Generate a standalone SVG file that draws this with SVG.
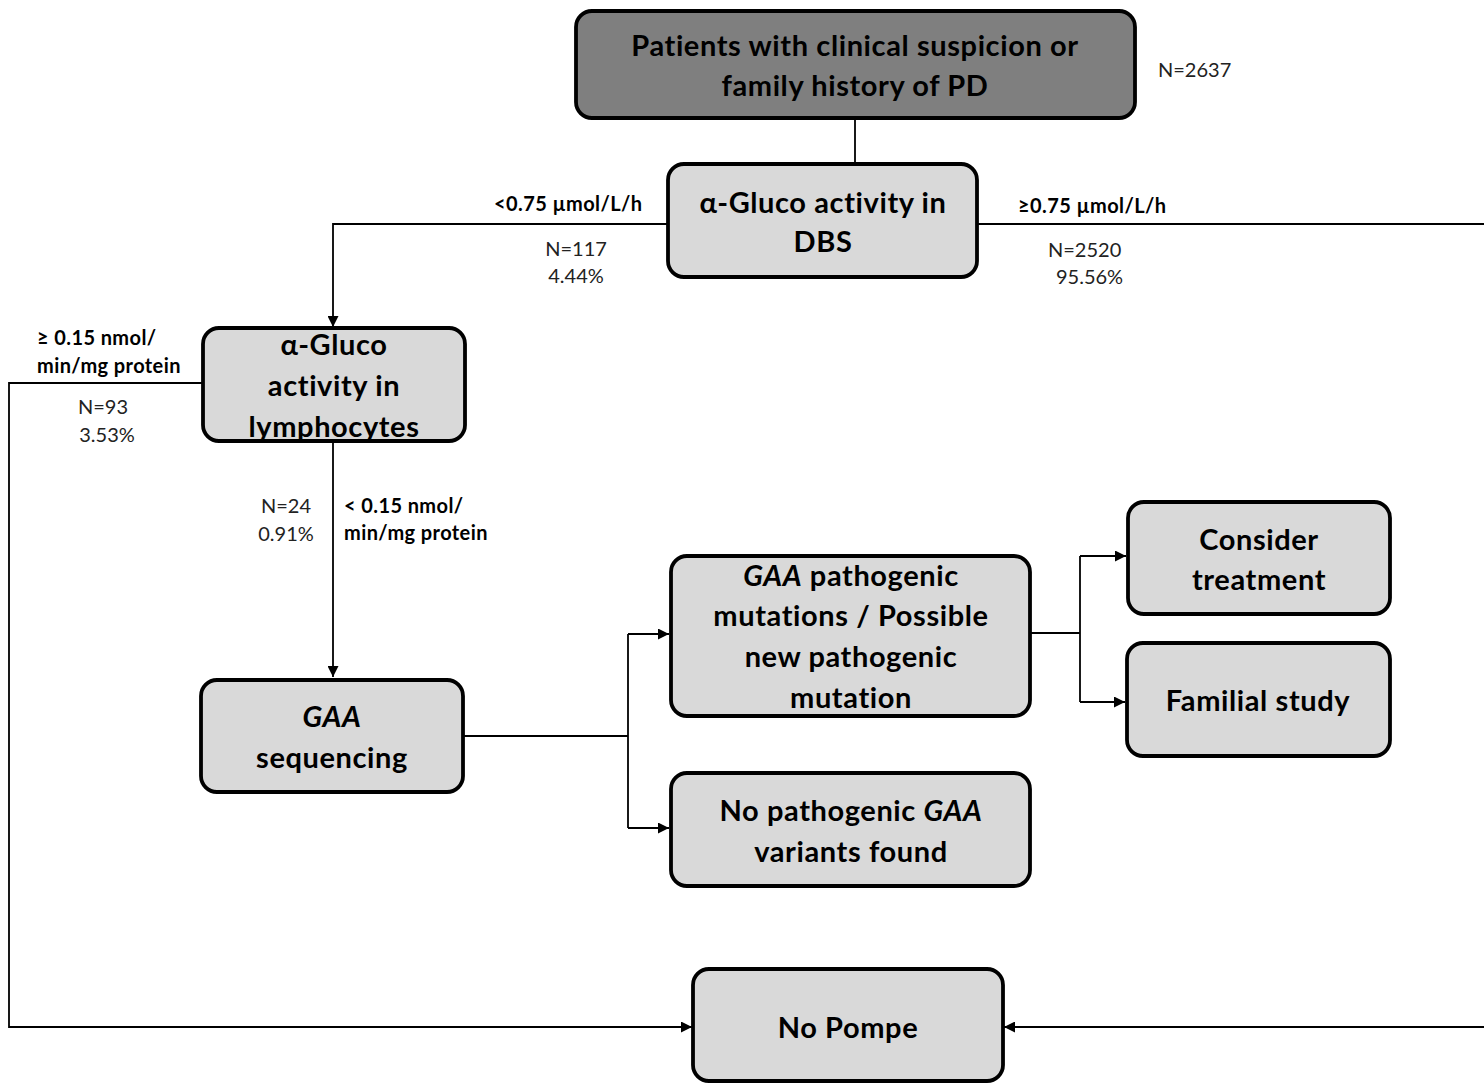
<svg xmlns="http://www.w3.org/2000/svg" width="1484" height="1084" viewBox="0 0 1484 1084">
<defs>
<marker id="arr" viewBox="0 0 10 10" refX="10" refY="5" markerWidth="12" markerHeight="11" markerUnits="userSpaceOnUse" orient="auto">
<path d="M0,0 L10,5 L0,10 z" fill="#000"/>
</marker>
<style>
.box{fill:#d9d9d9;stroke:#000;stroke-width:3.8}
.dark{fill:#7f7f7f;stroke:#000;stroke-width:3.8}
.t{font-family:Lato,"Open Sans","Liberation Sans",sans-serif;font-weight:bold;font-size:29px;letter-spacing:0.6px;fill:#000;text-anchor:middle}
.lb{font-family:Lato,"Open Sans","Liberation Sans",sans-serif;font-weight:bold;font-size:20px;letter-spacing:0.4px;fill:#000}
.n{font-family:Lato,"Open Sans","Liberation Sans",sans-serif;font-size:20px;fill:#222}
.c{text-anchor:middle}
.ln{fill:none;stroke:#000;stroke-width:1.8}
</style>
</defs>
<rect width="1484" height="1084" fill="#fff"/>
<g id="connectors">
<path class="ln" d="M855,118 V165"/>
<path class="ln" d="M668,224 H333 V327" marker-end="url(#arr)"/>
<path class="ln" d="M977,224 H1490 V1027 H1004" marker-end="url(#arr)"/>
<path class="ln" d="M203,383 H9 V1027 H692" marker-end="url(#arr)"/>
<path class="ln" d="M333,441 V677" marker-end="url(#arr)"/>
<path class="ln" d="M463,736 H628"/>
<path class="ln" d="M628,634 V828"/>
<path class="ln" d="M628,634 H669" marker-end="url(#arr)"/>
<path class="ln" d="M628,828 H669" marker-end="url(#arr)"/>
<path class="ln" d="M1030,633 H1080"/>
<path class="ln" d="M1080,556 V702"/>
<path class="ln" d="M1080,556 H1126" marker-end="url(#arr)"/>
<path class="ln" d="M1080,702 H1125" marker-end="url(#arr)"/>
</g>
<g id="labels">
<text class="n" x="1158" y="77">N=2637</text>
<text class="lb" x="494" y="211">&lt;0.75 µmol/L/h</text>
<text class="n c" x="576" y="256">N=117</text>
<text class="n c" x="576" y="283">4.44%</text>
<text class="lb" x="1018" y="213">≥0.75 µmol/L/h</text>
<text class="n" x="1048" y="257">N=2520</text>
<text class="n" x="1056" y="284">95.56%</text>
<text class="lb" x="37" y="345">≥ 0.15 nmol/</text>
<text class="lb" x="37" y="373">min/mg protein</text>
<text class="n c" x="103" y="414">N=93</text>
<text class="n c" x="107" y="442">3.53%</text>
<text class="n c" x="286" y="513">N=24</text>
<text class="n c" x="286" y="541">0.91%</text>
<text class="lb" x="344" y="513">&lt; 0.15 nmol/</text>
<text class="lb" x="344" y="540">min/mg protein</text>
</g>
<g id="node-patients">
<rect class="dark" x="576" y="11" width="559" height="107" rx="16"/>
<text class="t" x="855" y="56">Patients with clinical suspicion or</text>
<text class="t" x="855" y="96">family history of PD</text>
</g>
<g id="node-dbs">
<rect class="box" x="668" y="164" width="309" height="113" rx="16"/>
<text class="t" x="823" y="213">α-Gluco activity in</text>
<text class="t" x="823" y="252">DBS</text>
</g>
<g id="node-lymph">
<rect class="box" x="203" y="328" width="262" height="113" rx="16"/>
<text class="t" x="334" y="355">α-Gluco</text>
<text class="t" x="334" y="396">activity in</text>
<text class="t" x="334" y="437">lymphocytes</text>
</g>
<g id="node-seq">
<rect class="box" x="201" y="680" width="262" height="112" rx="16"/>
<text class="t" x="332" y="727" font-style="italic">GAA</text>
<text class="t" x="332" y="768">sequencing</text>
</g>
<g id="node-mut">
<rect class="box" x="671" y="556" width="359" height="160" rx="16"/>
<text class="t" x="851" y="586"><tspan font-style="italic">GAA</tspan> pathogenic</text>
<text class="t" x="851" y="626">mutations / Possible</text>
<text class="t" x="851" y="667">new pathogenic</text>
<text class="t" x="851" y="708">mutation</text>
</g>
<g id="node-treat">
<rect class="box" x="1128" y="502" width="262" height="112" rx="16"/>
<text class="t" x="1259" y="550">Consider</text>
<text class="t" x="1259" y="590">treatment</text>
</g>
<g id="node-familial">
<rect class="box" x="1127" y="643" width="263" height="113" rx="16"/>
<text class="t" x="1258" y="711">Familial study</text>
</g>
<g id="node-nopath">
<rect class="box" x="671" y="773" width="359" height="113" rx="16"/>
<text class="t" x="851" y="821">No pathogenic <tspan font-style="italic">GAA</tspan></text>
<text class="t" x="851" y="862">variants found</text>
</g>
<g id="node-nopompe">
<rect class="box" x="693" y="969" width="310" height="112" rx="16"/>
<text class="t" x="848" y="1038">No Pompe</text>
</g>
</svg>
